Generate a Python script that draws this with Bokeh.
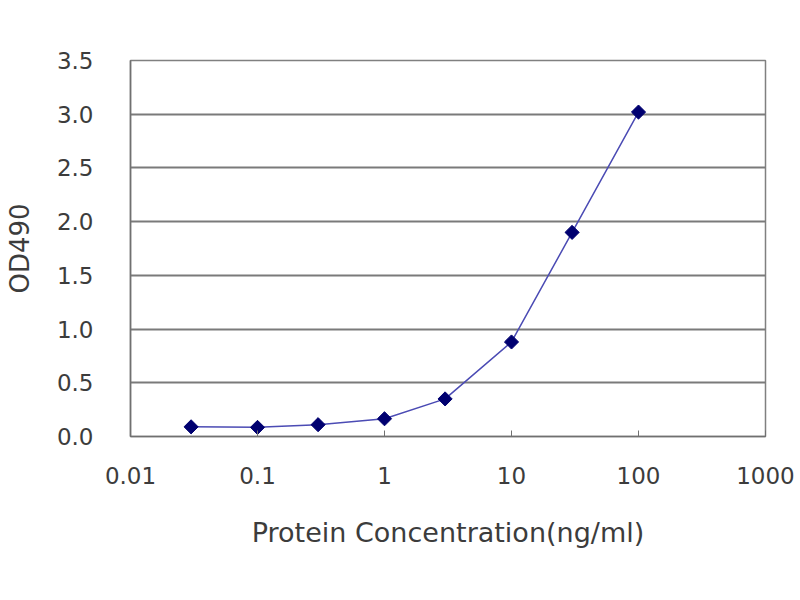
from bokeh.plotting import figure
from bokeh.embed import file_html
from bokeh.resources import INLINE
from bokeh.models import FixedTicker, NumeralTickFormatter, PrintfTickFormatter
import math

# Data
concentration = [0.03, 0.1, 0.3, 1, 3, 10, 30, 100]
od490 = [0.09, 0.085, 0.11, 0.165, 0.35, 0.88, 1.90, 3.02]
x_ticks = [0.01, 0.1, 1, 10, 100, 1000]
y_ticks = [0.0, 0.5, 1.0, 1.5, 2.0, 2.5, 3.0, 3.5]

W, H = 796, 592
p = figure(width=W, height=H, x_axis_type="log", x_range=(0.01, 1000), y_range=(0, 3.5),
           output_backend="svg", toolbar_location=None,
           min_border_left=130, min_border_right=W - 765, min_border_top=60,
           min_border_bottom=H - 436)

p.background_fill_color = "white"
p.border_fill_color = "white"
p.outline_line_color = "#808080"
p.outline_line_width = 1.5

font = "DejaVu Sans"
txt = "#3c3c3c"

# x axis
xa = p.xaxis[0]
xa.ticker = FixedTicker(ticks=x_ticks, minor_ticks=[])
xa.formatter = PrintfTickFormatter(format="%g")
xa.major_tick_in = 6
xa.major_tick_out = 0
xa.minor_tick_in = 0
xa.minor_tick_out = 0
xa.major_tick_line_color = "#707070"
xa.axis_line_color = "#707070"
xa.axis_line_width = 1.5
xa.major_label_text_font = font
xa.major_label_text_font_size = "23px"
xa.major_label_text_color = txt
xa.major_label_standoff = 30
xa.axis_label = "Protein Concentration(ng/ml)"
xa.axis_label_text_font = font
xa.axis_label_text_font_size = "27px"
xa.axis_label_text_font_style = "normal"
xa.axis_label_text_color = txt
xa.axis_label_standoff = 30

# y axis
ya = p.yaxis[0]
ya.ticker = FixedTicker(ticks=y_ticks, minor_ticks=[])
ya.formatter = NumeralTickFormatter(format="0.0")
ya.major_tick_in = 0
ya.major_tick_out = 0
ya.minor_tick_in = 0
ya.minor_tick_out = 0
ya.axis_line_color = "#707070"
ya.axis_line_width = 1.5
ya.major_label_text_font = font
ya.major_label_text_font_size = "23px"
ya.major_label_text_color = txt
ya.major_label_standoff = 37
ya.axis_label = "OD490"
ya.axis_label_text_font = font
ya.axis_label_text_font_size = "26px"
ya.axis_label_text_font_style = "normal"
ya.axis_label_text_color = txt
ya.axis_label_standoff = 19

p.xgrid.grid_line_color = None
p.ygrid.ticker = FixedTicker(ticks=y_ticks)
p.ygrid.grid_line_color = "#7a7a7a"
p.ygrid.grid_line_width = 2

p.line(concentration, od490, line_color="#4b4bb4", line_width=1.5)
p.scatter(concentration, od490, marker="square", angle=math.pi / 4, size=10,
          fill_color="#000070", line_color="#000070")

open("out.html", "w").write(file_html(p, INLINE))
